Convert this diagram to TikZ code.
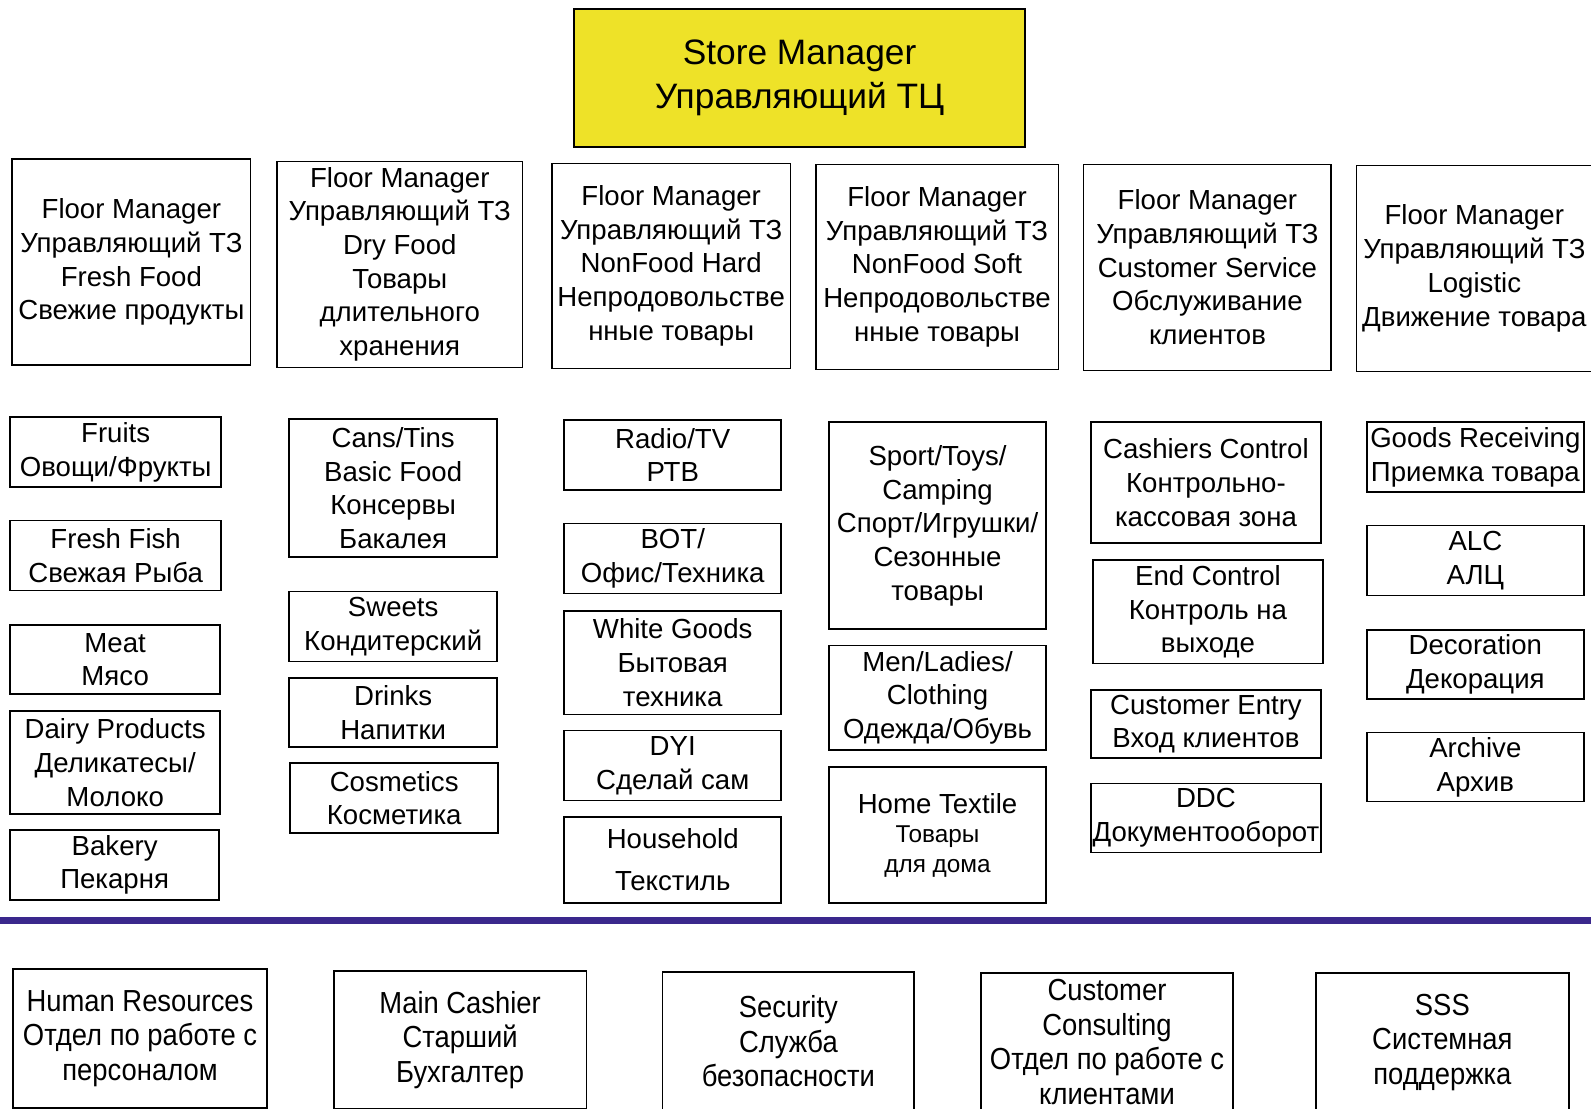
\documentclass[tikz,border=0pt]{standalone}
\usepackage{fontspec}
\setmainfont{Liberation Sans}
\newfontfamily\narrowfont[FakeStretch=0.9]{Liberation Sans}
\usetikzlibrary{positioning}
\definecolor{smyellow}{RGB}{238,226,40}
\definecolor{linepurple}{RGB}{58,40,140}

\tikzset{
  box/.style={draw, line width=0.8pt, align=center, inner sep=0pt,
              font=\fontsize{13.6}{16.6}\selectfont},
  sz/.style 2 args={minimum width=#1*0.5pt, minimum height=#2*0.5pt},
  lowbox/.style={box, font=\narrowfont\fontsize{15}{17}\selectfont},
}

\begin{document}
\begin{tikzpicture}[x=0.5pt, y=-0.5pt]
  \useasboundingbox (0,0) rectangle (1568,1092);

  % top
  \node[box, sz={444}{136}, fill=smyellow, font=\fontsize{17.4}{21.5}\selectfont]
       (store) at (788,77) {Store Manager\\Управляющий ТЦ};

  % floor managers
  \node[box, sz={235}{203}] (fresh)   at (129.5,258.5) {Floor Manager\\Управляющий ТЗ\\Fresh Food\\Свежие продукты};
  \node[box, sz={242}{203}] (dry)     at (394,260.5)   {Floor Manager\\Управляющий ТЗ\\Dry Food\\Товары\\длительного\\хранения};
  \node[box, sz={235}{202}] (hard)    at (661.5,262)   {Floor Manager\\Управляющий ТЗ\\NonFood Hard\\Непродовольстве\\нные товары};
  \node[box, sz={239}{202}] (soft)    at (923.5,263)   {Floor Manager\\Управляющий ТЗ\\NonFood Soft\\Непродовольстве\\нные товары};
  \node[box, sz={244}{203}] (service) at (1190,263.5)  {Floor Manager\\Управляющий ТЗ\\Customer Service\\Обслуживание\\клиентов};
  \node[box, draw=none] (logistic) at (1453,264.5) {Floor Manager\\Управляющий ТЗ\\Logistic\\Движение товара};
  \draw[line width=0.8pt] (1600,163) -- (1337,163) -- (1337,366) -- (1600,366);

  % fresh food
  \node[box, sz={208}{69}]  (fruits) at (114,445.5)   {Fruits\\Овощи/Фрукты};
  \node[box, sz={208}{69}]  (fish)   at (114,547.5)   {Fresh Fish\\Свежая Рыба};
  \node[box, sz={207}{68}]  (meat)   at (113.5,650)   {Meat\\Мясо};
  \node[box, sz={207}{101}] (dairy)  at (113.5,751.5) {Dairy Products\\Деликатесы/\\Молоко};
  \node[box, sz={206}{69}]  (bakery) at (113,852.5)   {Bakery\\Пекарня};

  % dry food
  \node[box, sz={205}{136}] (cans)      at (387.5,481)   {Cans/Tins\\Basic Food\\Консервы\\Бакалея};
  \node[box, sz={205}{69}]  (sweets)    at (387.5,617.5) {Sweets\\Кондитерский};
  \node[box, sz={205}{68}]  (drinks)    at (387.5,702)   {Drinks\\Напитки};
  \node[box, sz={205}{69}]  (cosmetics) at (388.5,786.5) {Cosmetics\\Косметика};

  % nonfood hard
  \node[box, sz={214}{69}]  (radio)     at (663,448.5) {Radio/TV\\РТВ};
  \node[box, sz={214}{69}]  (bot)       at (663,550.5) {BOT/\\Офис/Техника};
  \node[box, sz={214}{102}] (white)     at (663,653)   {White Goods\\Бытовая\\техника};
  \node[box, sz={214}{69}]  (dyi)       at (663,754.5) {DYI\\Сделай сам};
  \node[box, sz={214}{85}]  (household) at (663,847.5) {Household\\[4pt]Текстиль};

  % nonfood soft
  \node[box, sz={214}{204}] (sport)    at (924,518)   {Sport/Toys/\\Camping\\Спорт/Игрушки/\\Сезонные\\товары};
  \node[box, sz={214}{103}] (clothing) at (924,687.5) {Men/Ladies/\\Clothing\\Одежда/Обувь};
  \node[box, sz={214}{134}] (textile)  at (924,823)   {Home Textile\\[-2pt]{\fontsize{12}{14}\selectfont Товары}\\[-2pt]{\fontsize{12}{14}\selectfont для дома}};

  % customer service
  \node[box, sz={227}{119}] (cashiers) at (1188.5,475.5) {Cashiers Control\\Контрольно-\\кассовая зона};
  \node[box, sz={227}{102}] (endctl)   at (1190.5,603)   {End Control\\Контроль на\\выходе};
  \node[box, sz={227}{67}]  (entry)    at (1188.5,713.5) {Customer Entry\\Вход клиентов};
  \node[box, sz={227}{68}]  (ddc)      at (1188.5,806)   {DDC\\Документооборот};

  % logistic
  \node[box, sz={214}{69}] (receiving) at (1454,450.5) {Goods Receiving\\Приемка товара};
  \node[box, sz={214}{69}] (alc)       at (1454,552.5) {ALC\\АЛЦ};
  \node[box, sz={214}{68}] (deco)      at (1454,655)   {Decoration\\Декорация};
  \node[box, sz={214}{68}] (archive)   at (1454,756)   {Archive\\Архив};

  % separator
  \coordinate (sepl) at (0,907);
  \coordinate (sepr) at (1600,907);
  \draw[linepurple, line width=3.5pt] (sepl) -- (sepr);

  % support services
  \node[lowbox, sz={250}{137}] (hr)       at (138,1023.5)  {Human Resources\\Отдел по работе с\\персоналом};
  \node[lowbox, sz={249}{136}] (maincash) at (453.5,1025)  {Main Cashier\\Старший\\Бухгалтер};
  \node[lowbox, sz={248}{137}] (security) at (777,1026.5)  {Security\\Служба\\безопасности};
  \node[lowbox, sz={248}{136}] (consult)  at (1091,1027)   {Customer\\Consulting\\Отдел по работе с\\клиентами};
  \node[lowbox, sz={249}{136}] (sss)      at (1421.5,1027) {SSS\\Системная\\поддержка};
\end{tikzpicture}
\end{document}
